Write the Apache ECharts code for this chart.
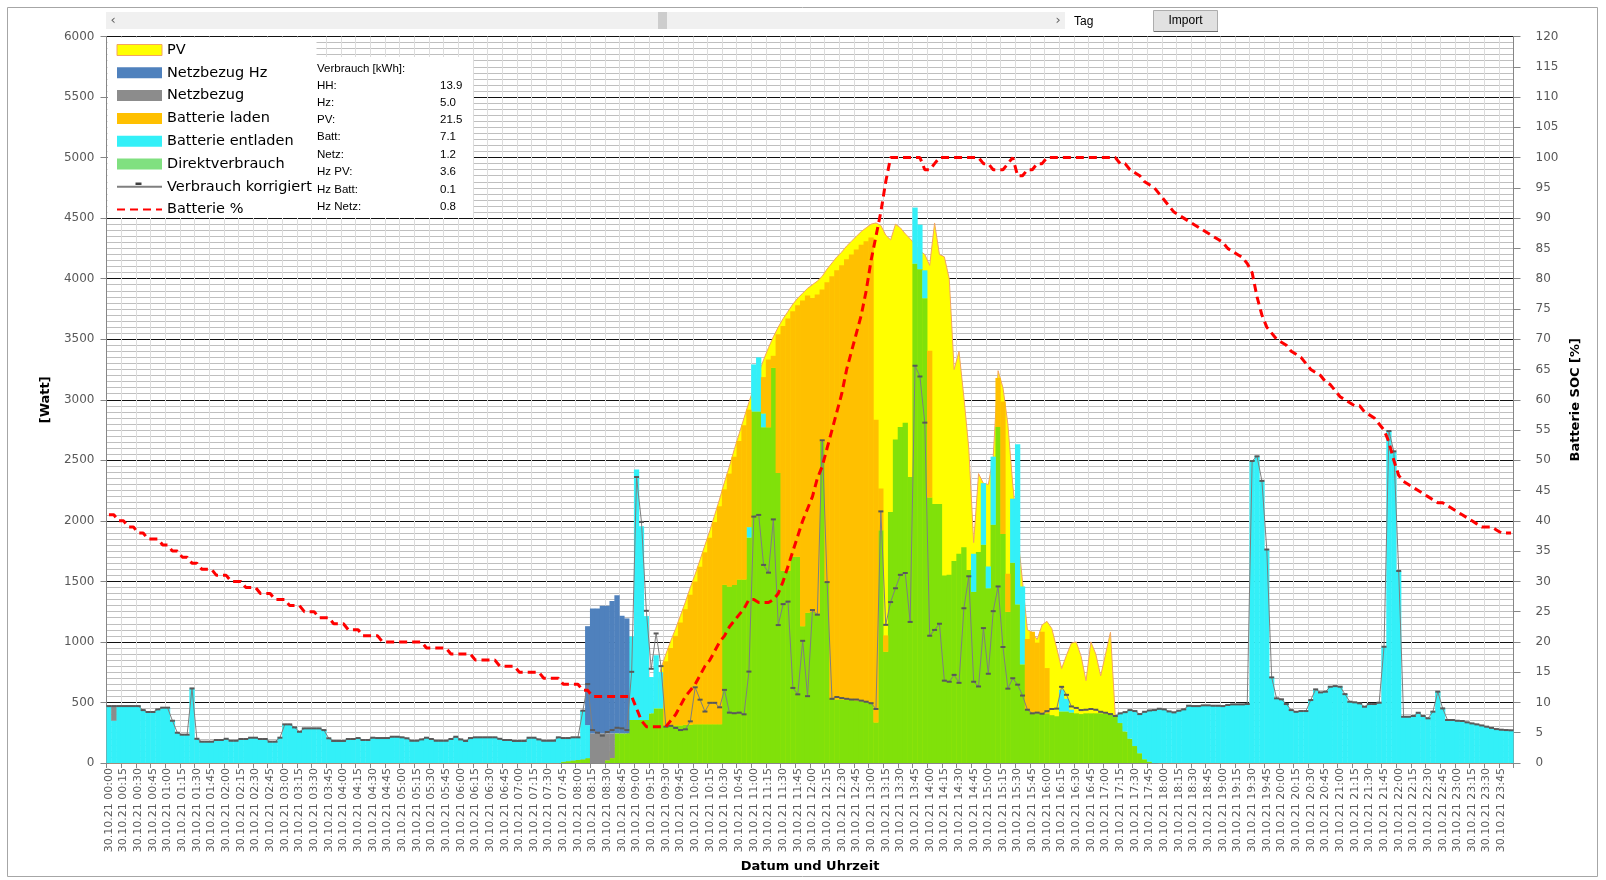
<!DOCTYPE html>
<html><head><meta charset="utf-8">
<script src="https://cdn.jsdelivr.net/npm/echarts/dist/echarts.min.js"></script>
<style>html,body{margin:0;padding:0;background:#fff}#c{width:1606px;height:880px}</style>
</head><body><div id="c"></div>
<script>
// categories: 5-minute slots of 30.10.21
const DAY = '30.10.21';
const categories = [];
for (let i = 0; i < 288; i++) {
  const h = Math.floor(i / 12), m = (i % 12) * 5;
  categories.push(DAY + ' ' + String(h).padStart(2, '0') + ':' + String(m).padStart(2, '0'));
}

// Verbrauch korrigiert [W]
const verbrauch = [
470,470,470,470,470,470,470,437,421,421,443,457,
457,349,250,234,234,616,200,176,176,176,190,190,
200,184,184,198,198,209,209,198,198,176,176,209,
319,319,294,258,286,286,286,286,272,204,182,182,
182,198,198,206,190,190,209,206,206,206,217,217,
212,204,184,184,195,209,198,184,184,184,198,217,
195,182,206,212,212,212,212,212,200,190,190,182,
182,182,209,209,195,184,184,184,212,206,206,212,
212,432,652,272,250,226,256,272,291,286,272,753,
2362,1991,1257,778,1070,800,300,307,290,272,278,344,
625,523,425,497,497,460,604,416,411,416,402,755,
2035,2049,1636,1572,2012,1139,1312,1333,620,567,1009,552,
1263,1225,2665,1494,530,545,536,530,524,524,515,506,
494,446,2078,1141,1329,1443,1554,1569,1165,3281,3192,2811,
1051,1099,1150,680,671,728,662,1278,1542,671,632,1114,
737,1254,1458,958,614,700,647,557,440,410,416,407,
428,446,449,629,563,467,455,437,440,446,440,423,
415,404,388,410,420,437,429,404,423,434,437,448,
443,426,418,432,443,473,470,470,476,476,473,473,
470,479,484,484,484,487,2494,2533,2330,1763,707,534,
526,487,437,423,429,429,520,608,583,589,630,635,
630,569,506,501,493,465,487,487,498,960,2742,2574,
1586,382,382,388,415,388,369,424,589,451,355,355,
349,347,336,327,319,310,300,290,280,275,272,270];

// Direktverbrauch [W]
const direkt = [
0,0,0,0,0,0,0,0,0,0,0,0,
0,0,0,0,0,0,0,0,0,0,0,0,
0,0,0,0,0,0,0,0,0,0,0,0,
0,0,0,0,0,0,0,0,0,0,0,0,
0,0,0,0,0,0,0,0,0,0,0,0,
0,0,0,0,0,0,0,0,0,0,0,0,
0,0,0,0,0,0,0,0,0,0,0,0,
0,0,0,0,0,0,0,0,0,10,15,20,
25,30,40,0,0,0,20,40,245,245,245,355,
355,355,355,410,450,450,300,300,310,310,315,315,
320,320,320,320,320,320,1471,1457,1471,1515,1515,1861,
2902,2902,2772,2772,3263,2396,1587,1587,1703,1703,1130,1240,
1248,1234,2656,1494,530,525,525,520,520,515,510,505,
500,335,1922,919,2072,2671,2775,2811,2362,4123,4078,3838,
2192,2138,2138,1548,1554,1668,1728,1781,1593,1413,1743,1802,
1443,1967,2775,1892,1248,1653,1308,814,440,410,410,410,
410,395,386,425,425,416,410,404,410,410,410,410,
405,400,380,330,260,200,140,80,30,10,0,0,
0,0,0,0,0,0,0,0,0,0,0,0,
0,0,0,0,0,0,0,0,0,0,0,0,
0,0,0,0,0,0,0,0,0,0,0,0,
0,0,0,0,0,0,0,0,0,0,0,0,
0,0,0,0,0,0,0,0,0,0,0,0,
0,0,0,0,0,0,0,0,0,0,0,0];

// Batterie entladen [W]
const entladen = [
470,350,470,470,470,470,470,437,421,421,443,457,
457,349,250,234,234,616,200,176,176,176,190,190,
200,184,184,198,198,209,209,198,198,176,176,209,
319,319,294,258,286,286,286,286,272,204,182,182,
182,198,198,206,190,190,209,206,206,206,217,217,
212,204,184,184,195,209,198,184,184,184,198,217,
195,182,206,212,212,212,212,212,200,190,190,182,
182,182,209,209,195,184,184,184,212,196,191,192,
187,400,273,0,0,0,0,0,0,0,0,690,
2068,1600,858,300,440,300,0,0,0,0,0,0,
0,0,0,0,0,0,0,0,0,0,0,87,
390,448,115,0,0,0,0,0,0,0,0,0,
0,0,0,0,0,0,0,0,0,0,0,0,
0,0,0,0,0,0,0,0,0,464,368,231,
0,0,0,0,0,0,0,0,0,315,0,509,
180,563,0,0,0,530,1324,644,0,0,0,0,
0,0,0,180,105,24,0,0,0,0,0,0,
0,0,8,80,160,237,289,324,393,424,437,448,
443,426,418,432,443,473,470,470,476,476,473,473,
470,479,484,484,484,487,2494,2533,2330,1763,707,534,
526,487,437,423,429,429,520,608,583,589,630,635,
630,569,506,501,493,465,487,487,498,960,2742,2574,
1586,382,382,388,415,388,369,424,589,451,355,355,
349,347,336,327,319,310,300,290,280,275,272,270];

// Netzbezug [W]
const netz = [
0,120,0,0,0,0,0,0,0,0,0,0,
0,0,0,0,0,0,0,0,0,0,0,0,
0,0,0,0,0,0,0,0,0,0,0,0,
0,0,0,0,0,0,0,0,0,0,0,0,
0,0,0,0,0,0,0,0,0,0,0,0,
0,0,0,0,0,0,0,0,0,0,0,0,
0,0,0,0,0,0,0,0,0,0,0,0,
0,0,0,0,0,0,0,0,0,0,0,0,
0,0,0,245,245,245,225,205,0,0,0,0,
0,0,0,0,0,0,0,0,0,0,0,0,
0,0,0,0,0,0,0,0,0,0,0,0,
0,0,0,0,0,0,0,0,0,0,0,0,
0,0,0,0,0,0,0,0,0,0,0,0,
0,0,0,0,0,0,0,0,0,0,0,0,
0,0,0,0,0,0,0,0,0,0,0,0,
0,0,0,0,0,0,0,0,0,0,0,0,
0,0,0,0,0,0,0,0,0,0,0,0,
0,0,0,0,0,0,0,0,0,0,0,0,
0,0,0,0,0,0,0,0,0,0,0,0,
0,0,0,0,0,0,0,0,0,0,0,0,
0,0,0,0,0,0,0,0,0,0,0,0,
0,0,0,0,0,0,0,0,0,0,0,0,
0,0,0,0,0,0,0,0,0,0,0,0,
0,0,0,0,0,0,0,0,0,0,0,0];

// Netzbezug Hz [W]
const netzHz = [
0,0,0,0,0,0,0,0,0,0,0,0,
0,0,0,0,0,0,0,0,0,0,0,0,
0,0,0,0,0,0,0,0,0,0,0,0,
0,0,0,0,0,0,0,0,0,0,0,0,
0,0,0,0,0,0,0,0,0,0,0,0,
0,0,0,0,0,0,0,0,0,0,0,0,
0,0,0,0,0,0,0,0,0,0,0,0,
0,0,0,0,0,0,0,0,0,0,0,0,
0,0,817,1031,1031,1053,1053,1092,1141,971,949,0,
0,0,0,0,0,0,0,0,0,0,0,0,
0,0,0,0,0,0,0,0,0,0,0,0,
0,0,0,0,0,0,0,0,0,0,0,0,
0,0,0,0,0,0,0,0,0,0,0,0,
0,0,0,0,0,0,0,0,0,0,0,0,
0,0,0,0,0,0,0,0,0,0,0,0,
0,0,0,0,0,0,0,0,0,0,0,0,
0,0,0,0,0,0,0,0,0,0,0,0,
0,0,0,0,0,0,0,0,0,0,0,0,
0,0,0,0,0,0,0,0,0,0,0,0,
0,0,0,0,0,0,0,0,0,0,0,0,
0,0,0,0,0,0,0,0,0,0,0,0,
0,0,0,0,0,0,0,0,0,0,0,0,
0,0,0,0,0,0,0,0,0,0,0,0,
0,0,0,0,0,0,0,0,0,0,0,0];

// Batterie laden [W]
const laden = [
0,0,0,0,0,0,0,0,0,0,0,0,
0,0,0,0,0,0,0,0,0,0,0,0,
0,0,0,0,0,0,0,0,0,0,0,0,
0,0,0,0,0,0,0,0,0,0,0,0,
0,0,0,0,0,0,0,0,0,0,0,0,
0,0,0,0,0,0,0,0,0,0,0,0,
0,0,0,0,0,0,0,0,0,0,0,0,
0,0,0,0,0,0,0,0,0,0,0,0,
0,0,0,0,0,0,0,0,0,0,0,0,
0,0,0,0,0,0,540,650,740,850,955,1075,
1180,1300,1420,1540,1670,1800,789,933,1059,1145,1275,970,
0,0,300,560,100,1144,2023,2083,2027,2077,2690,2620,
2592,2636,1254,2476,3490,3545,3585,3640,3680,3725,3770,3805,
3840,2500,345,135,0,0,0,0,0,0,0,0,
1212,0,0,0,0,0,0,0,0,0,0,0,
0,0,405,1093,315,0,0,0,584,674,584,674,
374,0,0,0,0,0,0,0,0,0,0,0,
0,0,0,0,0,0,0,0,0,0,0,0,
0,0,0,0,0,0,0,0,0,0,0,0,
0,0,0,0,0,0,0,0,0,0,0,0,
0,0,0,0,0,0,0,0,0,0,0,0,
0,0,0,0,0,0,0,0,0,0,0,0,
0,0,0,0,0,0,0,0,0,0,0,0,
0,0,0,0,0,0,0,0,0,0,0,0];

// PV [W]
const pv = [
0,0,0,0,0,0,0,0,0,0,0,0,
0,0,0,0,0,0,0,0,0,0,0,0,
0,0,0,0,0,0,0,0,0,0,0,0,
0,0,0,0,0,0,0,0,0,0,0,0,
0,0,0,0,0,0,0,0,0,0,0,0,
0,0,0,0,0,0,0,0,0,0,0,0,
0,0,0,0,0,0,0,0,0,0,0,0,
0,0,0,0,0,0,0,0,0,10,15,20,
25,30,40,50,60,70,80,100,150,200,240,280,
320,340,350,400,600,780,900,1010,1110,1220,1330,1450,
1560,1680,1800,1920,2050,2180,2320,2450,2590,2720,2850,2980,
3100,3220,3330,3430,3520,3600,3670,3730,3790,3840,3880,3920,
3950,3980,4020,4080,4130,4180,4220,4270,4310,4350,4390,4420,
4450,4460,4440,4360,4320,4450,4420,4370,4330,4280,4230,4200,
4110,4460,4200,4180,4000,3250,3400,3020,2600,1820,2390,2310,
2300,2530,3240,3100,2800,2300,1900,1500,1100,1080,1020,1140,
1170,1110,950,780,890,990,1000,880,680,1000,900,720,
900,1080,380,320,260,200,150,100,60,30,10,0,
0,0,0,0,0,0,0,0,0,0,0,0,
0,0,0,0,0,0,0,0,0,0,0,0,
0,0,0,0,0,0,0,0,0,0,0,0,
0,0,0,0,0,0,0,0,0,0,0,0,
0,0,0,0,0,0,0,0,0,0,0,0,
0,0,0,0,0,0,0,0,0,0,0,0];

// Batterie SOC [%]
const soc = [
41,41,40,40,39,39,38,38,37,37,37,36,
36,35,35,34,34,33,33,32,32,32,31,31,
31,30,30,30,29,29,29,28,28,28,27,27,
27,26,26,26,25,25,25,24,24,24,23,23,
23,22,22,22,21,21,21,21,20,20,20,20,
20,20,20,20,20,19,19,19,19,19,18,18,
18,18,18,17,17,17,17,17,16,16,16,16,
15,15,15,15,15,14,14,14,14,13,13,13,
13,12,12,11,11,11,11,11,11,11,11,11,
9,7,6,6,6,6,6,7,8,9.5,11,12,
13,14.5,16,17,18.5,20,21,22.5,23.5,24.5,25.5,27,
27,26.5,26.5,26.5,27,28,30,32.5,35,37.5,40,42,
44,47,49,52,55,58,61,65,68,71,74,78,
83,87,91,96,100,100,100,100,100,100,100,98,
98,99,100,100,100,100,100,100,100,100,100,99,
99,98,98,98,99,100,97,97,98,98,99,99,
100,100,100,100,100,100,100,100,100,100,100,100,
100,100,100,99,99,98,97.5,97,96,95.5,95,94,
93,92,91,90.5,90,89.5,89,88.5,88,87.5,87,86.5,
86,85,84.5,84,83.5,82.5,81,77,74,72,71,70,
69.5,69,68,67.5,67,66,65,64.5,64,63,62.5,61.5,
60.5,60,59.5,59,59,58,57.5,57,56,55,53,50,
47.5,46.5,46,45.5,45,44.5,44,43.5,43,43,42.5,42,
41.5,41,40.5,40,39.5,39,39,39,38.5,38,38,38];

// Summary table
const tableTitle = 'Verbrauch [kWh]:';
const tableLabels = ['HH:', 'Hz:', 'PV:', 'Batt:', 'Netz:', 'Hz PV:', 'Hz Batt:', 'Hz Netz:'];
const tableValues = ['13.9', '5.0', '21.5', '7.1', '1.2', '3.6', '0.1', '0.8'];

const FONT = 'DejaVu Sans';
const SMALL = "'Liberation Sans Narrow','Liberation Sans',sans-serif";
const every3 = (i) => i % 3 === 0;

const tableEls = [{type:'text', x:317, y:68.5, z:31, silent:true,
  style:{text:tableTitle, fontSize:11.5, fontFamily:SMALL, fill:'#000', align:'left', verticalAlign:'middle'}}];
const rowY = [85.5, 102.5, 120, 137, 154.5, 172, 189.5, 206.5];
tableLabels.forEach((t, k) => {
  tableEls.push({type:'text', x:317, y:rowY[k], z:31, silent:true,
    style:{text:t, fontSize:11.5, fontFamily:SMALL, fill:'#000', align:'left', verticalAlign:'middle'}});
  tableEls.push({type:'text', x:440, y:rowY[k], z:31, silent:true,
    style:{text:tableValues[k], fontSize:11.5, fontFamily:SMALL, fill:'#000', align:'left', verticalAlign:'middle'}});
});

const barBase = {type:'bar', stack:'a', barWidth: 5.3, z:2};

const option = {
  animation: false,
  backgroundColor: '#ffffff',
  textStyle: {fontFamily: FONT},
  grid: {left: 106.5, right: 92.5, top: 36.5, bottom: 117, containLabel: false, outerBoundsMode: 'none'},
  legend: {
    orient: 'vertical', left: 116, top: 42, padding: 0, itemWidth: 45, itemHeight: 11, itemGap: 6.8, z: 40,
    textStyle: {fontSize: 14.5, color: '#000', fontFamily: FONT, lineHeight: 16},
    data: [
      {name: 'PV', icon: 'rect', itemStyle: {color: '#FFFF00', borderColor: '#F4A460', borderWidth: 1}},
      {name: 'Netzbezug Hz', icon: 'rect'},
      {name: 'Netzbezug', icon: 'rect'},
      {name: 'Batterie laden', icon: 'rect'},
      {name: 'Batterie entladen', icon: 'rect'},
      {name: 'Direktverbrauch', icon: 'rect', itemStyle: {color: '#80E080'}},
      {name: 'Verbrauch korrigiert', itemStyle: {opacity: 0}},
      {name: 'Batterie %', itemStyle: {opacity: 0}}
    ]
  },
  xAxis: {
    type: 'category', data: categories, boundaryGap: true,
    axisLine: {lineStyle: {color: '#868686'}},
    axisTick: {show: true, interval: every3, length: 5, lineStyle: {color: '#868686'}},
    axisLabel: {interval: every3, rotate: 90, fontSize: 11, color: '#595959', margin: 5, fontFamily: FONT},
    splitLine: {show: true, interval: every3, lineStyle: {color: '#DDDDDD', width: 1}},
    name: 'Datum und Uhrzeit', nameLocation: 'middle', nameGap: 93,
    nameTextStyle: {fontWeight: 'bold', fontSize: 13, color: '#000', fontFamily: FONT}
  },
  yAxis: [
    {
      type: 'value', min: 0, max: 6000, interval: 500, position: 'left',
      axisLine: {show: true, lineStyle: {color: '#868686'}},
      axisTick: {show: true, length: 6, lineStyle: {color: '#868686'}},
      axisLabel: {fontSize: 12, color: '#595959', margin: 12, fontFamily: FONT, formatter: (v) => String(v)},
      splitLine: {show: true, lineStyle: {color: '#111111', width: 1}},
      minorTick: {show: false, splitNumber: 10},
      minorSplitLine: {show: true, lineStyle: {color: '#BFBFBF', width: 1}},
      name: '[Watt]', nameLocation: 'middle', nameGap: 54, nameRotate: 90,
      nameTextStyle: {fontWeight: 'bold', fontSize: 13, color: '#000', fontFamily: FONT}
    },
    {
      type: 'value', min: 0, max: 120, interval: 5, position: 'right',
      axisLine: {show: true, lineStyle: {color: '#868686'}},
      axisTick: {show: true, length: 7, lineStyle: {color: '#868686'}},
      axisLabel: {fontSize: 12, color: '#595959', margin: 22, fontFamily: FONT, formatter: (v) => String(v)},
      splitLine: {show: false},
      name: 'Batterie SOC [%]', nameLocation: 'middle', nameGap: 56, nameRotate: 90,
      nameTextStyle: {fontWeight: 'bold', fontSize: 13, color: '#000', fontFamily: FONT}
    }
  ],
  series: [
    {name: 'PV', type: 'line', data: pv, symbol: 'none', z: 1,
      lineStyle: {color: '#F4A460', width: 1}, itemStyle: {color: '#FFFF00'},
      areaStyle: {color: '#FFFF00', opacity: 1}},
    Object.assign({}, barBase, {name: 'Direktverbrauch', data: direkt, itemStyle: {color: '#80E10A'}}),
    Object.assign({}, barBase, {name: 'Batterie entladen', data: entladen, itemStyle: {color: '#33F0F8'}}),
    Object.assign({}, barBase, {name: 'Netzbezug', data: netz, itemStyle: {color: '#8C8C8C'}}),
    Object.assign({}, barBase, {name: 'Netzbezug Hz', data: netzHz, itemStyle: {color: '#4F81BD'}}),
    Object.assign({}, barBase, {name: 'Batterie laden', data: laden, itemStyle: {color: '#FFC000'}}),
    {name: 'Verbrauch korrigiert', type: 'line', data: verbrauch, z: 5,
      symbol: 'rect', symbolSize: [5, 2], showSymbol: true, showAllSymbol: true,
      lineStyle: {color: '#7F7F7F', width: 1}, itemStyle: {color: '#595959'}},
    {name: 'Batterie %', type: 'line', yAxisIndex: 1, data: soc, symbol: 'none', z: 6,
      lineStyle: {color: '#FF0000', width: 3, type: [8, 5]}, itemStyle: {color: '#FF0000'}}
  ],
  graphic: {elements: [
    {type: 'rect', silent: true, z: 0, shape: {x: 7.5, y: 7.5, width: 1590, height: 869},
      style: {fill: 'none', stroke: '#A6A6A6', lineWidth: 1}},
    {type: 'rect', silent: true, z: 30, shape: {x: 107.5, y: 38, width: 209, height: 180}, style: {fill: '#fff'}},
    {type: 'rect', silent: true, z: 30, shape: {x: 316, y: 57, width: 157, height: 161}, style: {fill: '#fff'}},
    {type: 'rect', silent: true, z: 50, shape: {x: 135.5, y: 182.5, width: 6, height: 2.5}, style: {fill: '#404040'}},
    {type: 'rect', silent: true, z: 30, shape: {x: 106, y: 12, width: 959, height: 17}, style: {fill: '#F0F0F0'}},
    {type: 'rect', silent: true, z: 31, shape: {x: 658, y: 12, width: 9, height: 17}, style: {fill: '#CDCDCD'}},
    {type: 'text', silent: true, z: 31, x: 113, y: 20.5,
      style: {text: '‹', fontSize: 13, fill: '#606060', align: 'center', verticalAlign: 'middle', fontFamily: FONT}},
    {type: 'text', silent: true, z: 31, x: 1058, y: 20.5,
      style: {text: '›', fontSize: 13, fill: '#606060', align: 'center', verticalAlign: 'middle', fontFamily: FONT}},
    {type: 'text', silent: true, z: 31, x: 1074, y: 21.5,
      style: {text: 'Tag', fontSize: 12, fill: '#000', align: 'left', verticalAlign: 'middle', fontFamily: SMALL}},
    {type: 'rect', silent: true, z: 30, shape: {x: 1153.5, y: 10.5, width: 64, height: 21},
      style: {fill: '#E1E1E1', stroke: '#ADADAD', lineWidth: 1}},
    {type: 'line', silent: true, z: 31, shape: {x1: 1154, y1: 31.5, x2: 1218, y2: 31.5},
      style: {stroke: '#6D6D6D', lineWidth: 1}},
    {type: 'text', silent: true, z: 31, x: 1185.5, y: 21,
      style: {text: 'Import', fontSize: 12, fill: '#000', align: 'center', verticalAlign: 'middle', fontFamily: SMALL}}
  ].concat(tableEls)}
};

const chart = echarts.init(document.getElementById('c'), null, {renderer: 'canvas'});
chart.setOption(option);
</script>
</body></html>
